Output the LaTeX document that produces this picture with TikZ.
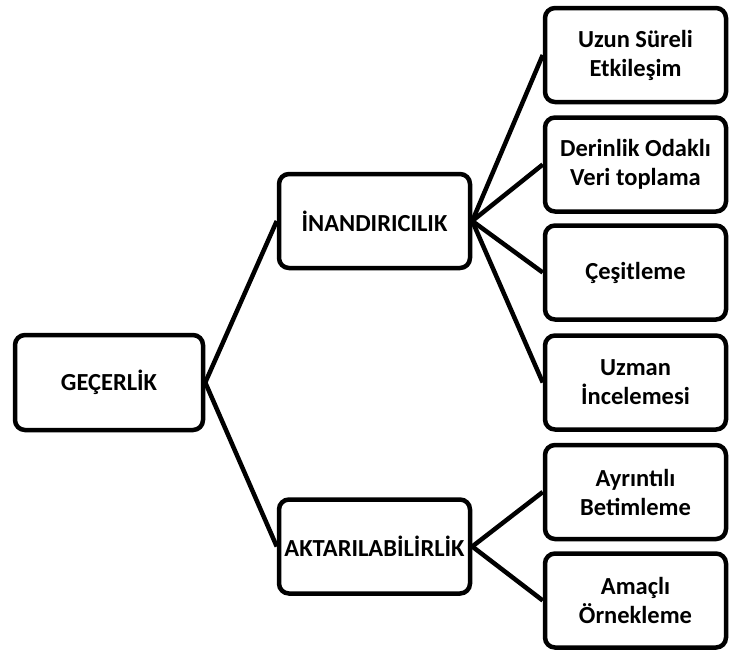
\documentclass[tikz,border=0pt]{standalone}
\usepackage{fontspec}
\setmainfont{Carlito}

\begin{document}
\begin{tikzpicture}[x = 1pt, y = -1pt,
  box/.style = {draw, line width = 4.5pt, rounded corners = 10pt,
    align = center, inner sep = 0pt, minimum height = 94pt,
    font = \fontsize{24.5}{29}\selectfont\bfseries},
  link/.style = {line width = 4.5pt}]
  \useasboundingbox (0, 0) rectangle (729, 651);

  \node[box, minimum width = 188pt, minimum height = 95pt] (gecerlik) at
  (109, 382.5) {GEÇERLİK};

  \node[box, minimum width = 191pt] (inandiricilik) at (374.5, 221)
  {İNANDIRICILIK};
  \node[box, minimum width = 191pt] (aktarilabilirlik) at (374.5, 546.5)
  {AKTARILABİLİRLİK};

  \node[box, minimum width = 181pt] (uzun) at (635.5, 55)
  {Uzun Süreli\\Etkileşim};
  \node[box, minimum width = 181pt] (derinlik) at (635.5, 164.5)
  {Derinlik Odaklı\\Veri toplama};
  \node[box, minimum width = 181pt] (cesitleme) at (635.5, 272.5)
  {Çeşitleme};
  \node[box, minimum width = 181pt] (uzman) at (635.5, 382.5)
  {Uzman\\İncelemesi};
  \node[box, minimum width = 181pt] (ayrintili) at (635.5, 492)
  {Ayrıntılı\\Betimleme};
  \node[box, minimum width = 181pt] (amacli) at (635.5, 600.5)
  {Amaçlı\\Örnekleme};

  \draw[link] (inandiricilik.west) -- (gecerlik.east) --
  (aktarilabilirlik.west);

  \draw[link] (uzun.west) -- (inandiricilik.east);
  \draw[link] (derinlik.west) -- (inandiricilik.east);
  \draw[link] (cesitleme.west) -- (inandiricilik.east);
  \draw[link] (uzman.west) -- (inandiricilik.east);

  \draw[link] (ayrintili.west) -- (aktarilabilirlik.east);
  \draw[link] (amacli.west) -- (aktarilabilirlik.east);
\end{tikzpicture}
\end{document}
